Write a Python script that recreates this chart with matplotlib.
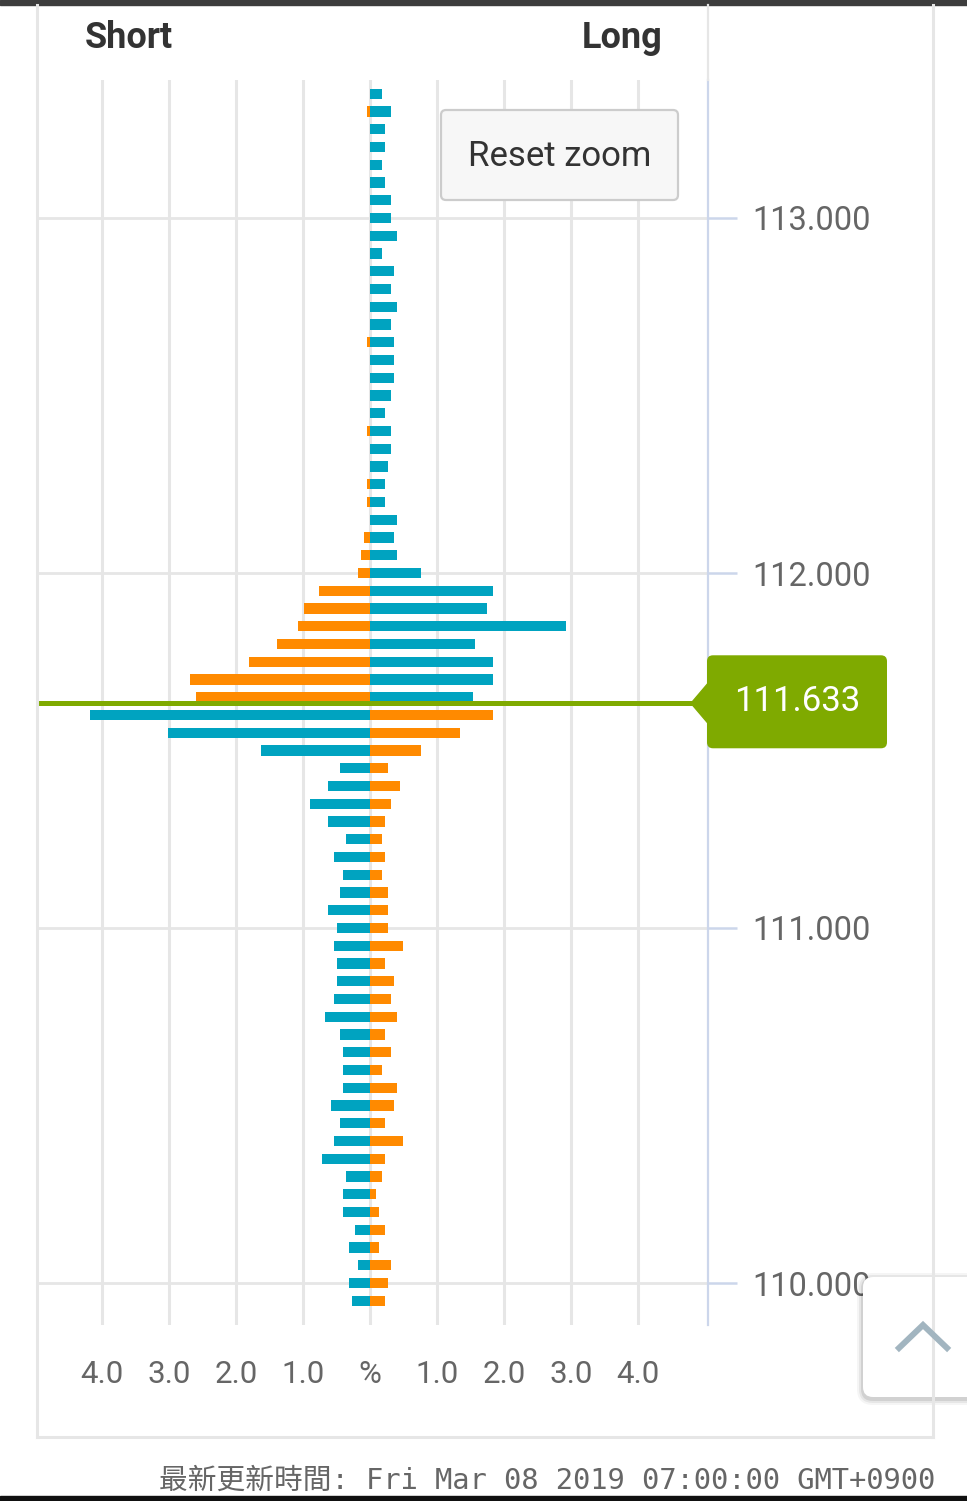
import numpy as np
import matplotlib
matplotlib.use("Agg")
import matplotlib.pyplot as plt
from matplotlib.patches import FancyBboxPatch, Polygon, Rectangle
from matplotlib.lines import Line2D
from matplotlib.transforms import IdentityTransform

# price levels (top -> bottom), % of positions at each level
prices = [113.35, 113.30, 113.25, 113.20, 113.15, 113.10, 113.05, 113.00, 112.95, 112.90,
          112.85, 112.80, 112.75, 112.70, 112.65, 112.60, 112.55, 112.50, 112.45, 112.40,
          112.35, 112.30, 112.25, 112.20, 112.15, 112.10, 112.05, 112.00, 111.95, 111.90,
          111.85, 111.80, 111.75, 111.70, 111.65, 111.60, 111.55, 111.50, 111.45, 111.40,
          111.35, 111.30, 111.25, 111.20, 111.15, 111.10, 111.05, 111.00, 110.95, 110.90,
          110.85, 110.80, 110.75, 110.70, 110.65, 110.60, 110.55, 110.50, 110.45, 110.40,
          110.35, 110.30, 110.25, 110.20, 110.15, 110.10, 110.05, 110.00, 109.95]

short_pct = [0.00, 0.045, 0.00, 0.00, 0.00, 0.00, 0.00, 0.00, 0.00, 0.00,
             0.00, 0.00, 0.00, 0.00, 0.045, 0.00, 0.00, 0.00, 0.00, 0.045,
             0.00, 0.00, 0.045, 0.045, 0.00, 0.09, 0.13, 0.18, 0.76, 0.99,
             1.08, 1.39, 1.80, 2.69, 2.60, 4.18, 3.01, 1.62, 0.45, 0.63,
             0.90, 0.63, 0.36, 0.54, 0.40, 0.45, 0.63, 0.49, 0.54, 0.49,
             0.49, 0.54, 0.67, 0.45, 0.40, 0.40, 0.40, 0.58, 0.45, 0.54,
             0.72, 0.36, 0.40, 0.40, 0.22, 0.31, 0.18, 0.31, 0.27]

long_pct = [0.18, 0.31, 0.22, 0.22, 0.18, 0.22, 0.31, 0.31, 0.40, 0.18,
            0.36, 0.31, 0.40, 0.31, 0.36, 0.36, 0.36, 0.31, 0.22, 0.31,
            0.31, 0.27, 0.22, 0.22, 0.40, 0.36, 0.40, 0.76, 1.84, 1.75,
            2.92, 1.57, 1.84, 1.84, 1.53, 1.84, 1.35, 0.76, 0.27, 0.45,
            0.31, 0.22, 0.18, 0.22, 0.18, 0.27, 0.27, 0.27, 0.49, 0.22,
            0.36, 0.31, 0.40, 0.22, 0.31, 0.18, 0.40, 0.36, 0.22, 0.49,
            0.22, 0.18, 0.09, 0.13, 0.22, 0.13, 0.31, 0.27, 0.22]

current_price = 111.633
x_ticks = [-4, -3, -2, -1, 0, 1, 2, 3, 4]
x_labels = ["4.0", "3.0", "2.0", "1.0", "%", "1.0", "2.0", "3.0", "4.0"]
y_ticks = [110.0, 111.0, 112.0, 113.0]

TEAL = "#00a3c0"
ORANGE = "#ff8a00"
GREEN = "#7faa00"
GRID = "#e6e6e6"
AXIS = "#ccd6eb"
LABEL = "#666666"

W, H = 967, 1501
fig = plt.figure(figsize=(W / 100, H / 100), dpi=100)
fig.patch.set_facecolor("white")
PX = IdentityTransform()


def rect(x0, y0, x1, y1):
    # top-origin pixel box -> figure fraction
    return [x0 / W, 1 - y1 / H, (x1 - x0) / W, (y1 - y0) / H]


def pline(xs, ys, **kw):
    fig.add_artist(Line2D(xs, [H - y for y in ys], transform=PX, **kw))


def pbox(x0, y0, x1, y1, r, **kw):
    p = FancyBboxPatch((x0, H - y1), x1 - x0, y1 - y0,
                       boxstyle="round,pad=0,rounding_size=%s" % r, transform=PX, **kw)
    fig.add_artist(p)


ax = fig.add_axes(rect(37, 80, 708, 1325))
ax.set_facecolor("none")
ax.set_xlim((37 - 370) / 67.0, (708 - 370) / 67.0)
ax.set_ylim(110 - (1325 - 1283) / 355.0, 113 + (218 - 80) / 355.0)

pr = np.array(prices)
sh = np.array(short_pct)
lo = np.array(long_pct)
above = pr > current_price
ax.barh(pr, lo, height=0.029, color=np.where(above, TEAL, ORANGE), zorder=3)
ax.barh(pr, -sh, height=0.029, color=np.where(above, ORANGE, TEAL), zorder=3)

for v in x_ticks:
    ax.axvline(v, color=GRID, lw=2.2, zorder=1)
for v in y_ticks:
    ax.axhline(v, color=GRID, lw=2.0, zorder=1)
ax.axhline(current_price, color=GREEN, lw=3.6, zorder=4)

for s in ["left", "top", "bottom"]:
    ax.spines[s].set_visible(False)
ax.spines["right"].set_color(AXIS)
ax.spines["right"].set_linewidth(1.6)

ax.yaxis.tick_right()
ax.set_yticks(y_ticks, ["%.3f" % v for v in y_ticks])
ax.tick_params(axis="y", length=21, width=1.8, color=AXIS, pad=11,
               labelsize=23.5, labelcolor=LABEL)
ax.set_xticks(x_ticks, x_labels)
ax.tick_params(axis="x", length=0, pad=25, labelsize=22.5, labelcolor=LABEL)
for t in ax.get_xticklabels() + ax.get_yticklabels():
    t.set_fontfamily(["Roboto", "DejaVu Sans"])

# frame and screen chrome
fig.add_artist(Rectangle((0, H - 5), W, 5, transform=PX, color="#3d3d3d"))
fig.add_artist(Rectangle((0, 0), W, 5, transform=PX, color="#111111"))
pline([37, 37], [5, 1437], color=GRID, lw=2.2)
pline([37, 933], [1437, 1437], color=GRID, lw=2.2)
pline([933, 933], [5, 1437], color=GRID, lw=2.2)
pline([708, 708], [5, 80], color=GRID, lw=1.6)

fig.text(85 / W, 1 - 38 / H, "Short", ha="left", va="center", fontsize=26,
         fontweight="bold", color="#333333", family=["Roboto", "DejaVu Sans"])
fig.text(662 / W, 1 - 38 / H, "Long", ha="right", va="center", fontsize=26,
         fontweight="bold", color="#333333", family=["Roboto", "DejaVu Sans"])

# reset zoom button
pbox(441, 110, 678, 200, 5, facecolor="#f7f7f7", edgecolor="#cccccc", lw=1.6)
fig.text(559.5 / W, 1 - 157 / H, "Reset zoom", ha="center", va="center",
         fontsize=25, color="#333333", family=["Roboto", "DejaVu Sans"])

# current price tag
yc = H - ax.transData.transform((0, current_price))[1]
fig.add_artist(Polygon([(691, H - yc), (708, H - (yc - 20)), (708, H - (yc + 20))],
                       closed=True, transform=PX, color=GREEN))
pbox(707, yc - 48, 887, yc + 45, 6, facecolor=GREEN, edgecolor="none")
fig.text(797 / W, 1 - (yc - 2) / H, "%.3f" % current_price, ha="center", va="center",
         fontsize=25, color="white", family=["Roboto", "DejaVu Sans"])

# scroll-to-top button
for grow, a in [(6, 0.04), (4, 0.06), (2, 0.09)]:
    pbox(863 - grow, 1277 - grow + 2, 990 + grow, 1397 + grow + 2, 10 + grow,
         facecolor="black", edgecolor="none", alpha=a)
pbox(863, 1277, 990, 1397, 10, facecolor="white", edgecolor="none")
pline([899, 923, 947], [1348, 1325, 1348], color="#a2b5c0", lw=4.3,
      solid_joinstyle="miter")

fig.text(547 / W, 1 - 1481 / H, "最新更新時間: Fri Mar 08 2019 07:00:00 GMT+0900",
         ha="center", va="center", fontsize=20.7, color=LABEL,
         family=["DejaVu Sans Mono", "Noto Sans CJK TC"])

fig.savefig("out.png", dpi=100)
